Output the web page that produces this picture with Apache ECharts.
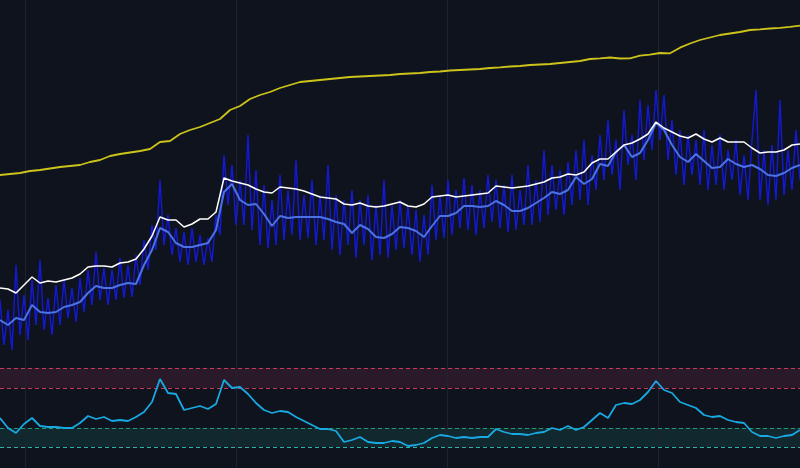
<!DOCTYPE html>
<html>
<head>
<meta charset="utf-8">
<script src="https://cdn.jsdelivr.net/npm/echarts@6/dist/echarts.min.js"></script>
<style>
html,body{margin:0;padding:0;background:#0f131d;}
#chart{width:800px;height:468px;}
</style>
</head>
<body>
<div id="chart"></div>
<script>
// time index steps
const stepNoisy = 2, stepSmooth = 4, stepYellow = 5;
const xMax = 400;
const gridTicks = [12.5, 118, 223.5, 329];

// long-term trend (yellow)
const trendLine = [185,186,187,189,190,191.5,193,194,195,198,
200,204,206,207.5,209,211,218,219,226,230,
233,237,241,250,254,261,265,268,272,275,
278,279,280,281,282,283,283.5,284,284.5,285,
286,286.5,287,288,288.5,289.5,290,290.5,291,292,
292.7,293.5,294,295,295.5,296,297,298,299,301,
301.7,302.5,301.5,301.7,304.3,305.3,307,306.7,312.3,316.5,
320,322.5,325,326.5,328,330,330.7,331.5,332.2,333.2,334.3];

// upper band (white)
const upperLine = [72,71,67,75,83,77,79,78,80,82,
86,93,94,94,93,97,98,101,111,124,
143,140,140,133,136,141,141,148,182,179,
177,175,171,168,167,173,172,171,169,166,
163,162,161,156,155,157,154,153,154,156,
158,154,153,156,163,164,165,163,164,165,
166,167,174,173,172,173,174,176,178,182,
183,186,185,188,197,201,201,208,215,217,
221,226,238,232,228,224,222,226,221,218,
222,218,218,218,212,207,208,208,210,215,216];

// moving average (light blue)
const avgLine = [40,35,42,40,55,48,47,48,53,55,
58,67,74,72,72,75,77,76,95,110,
132,128,117,113,113,115,117,130,168,176,
160,155,156,146,134,144,142,143,143,143,
143,141,138,136,127,135,131,123,122,126,
133,132,129,123,134,144,144,147,154,154,
153,154,159,155,149,149,152,157,162,168,
166,170,183,176,181,196,194,208,215,203,
207,220,237,230,215,203,198,206,199,192,
193,201,196,193,195,191,185,184,187,192,195];

// raw series (dark blue)
const rawLine = [60,15,50,10,95,25,65,20,80,35,
100,30,62,25,75,35,80,42,72,38,
82,48,90,55,108,60,92,55,90,60,
102,62,95,63,105,75,120,90,135,110,
180,115,145,105,132,98,128,95,132,98,
125,95,122,98,145,125,205,155,195,135,
180,135,225,130,190,115,175,112,160,115,
185,120,170,125,200,120,165,122,180,115,
165,120,195,110,165,105,160,115,170,102,
160,115,165,100,155,105,180,102,155,110,
160,112,155,105,150,98,145,105,175,120,
165,122,180,125,170,132,182,130,175,125,
170,132,185,138,180,132,175,128,185,130,
170,135,195,135,180,138,210,145,195,150,
190,145,198,155,210,160,220,155,205,170,
225,180,240,185,220,170,250,195,225,180,
260,200,255,210,270,220,265,200,240,185,
230,175,225,185,220,175,230,170,215,175,
225,170,210,180,220,165,205,160,220,270,
160,210,155,215,160,260,165,210,170,230,180];

// oscillator (cyan)
const oscLine = [50,40,35,44,50,42,41,41,40,40,
45,52,49,51,47,48,47,51,56,66,
89,75,74,58,60,62,59,64,88,80,
81,74,65,58,55,57,56,51,47,43,
39,39,37,26,28,31,26,25,25,27,
26,22,23,25,30,33,32,30,31,30,
31,31,39,36,34,34,33,35,36,40,
38,42,38,41,48,55,50,63,65,64,
68,76,87,78,75,66,63,60,53,51,
52,48,46,45,36,32,32,30,32,33,38];

const oscUpperBand = [80, 100];
const oscLowerBand = [21, 40];

const toPairs = (arr, step) => arr.map((v, i) => [i * step, v]);

const vLines = gridTicks.map(t => ({ xAxis: t }));
const vLineStyle = { color: '#1d2330', width: 1, type: 'solid' };

const chart = echarts.init(document.getElementById('chart'), null, { renderer: 'canvas' });
chart.setOption({
  backgroundColor: '#0f131d',
  animation: false,
  grid: [
    { left: 0, right: 0, top: 0, height: 360 },
    { left: 0, right: 0, top: 360, height: 108 }
  ],
  xAxis: [
    { type: 'value', gridIndex: 0, min: 0, max: xMax, show: false },
    { type: 'value', gridIndex: 1, min: 0, max: xMax, show: false }
  ],
  yAxis: [
    { type: 'value', gridIndex: 0, min: 0, max: 360, show: false },
    { type: 'value', gridIndex: 1, min: 0, max: 108, show: false }
  ],
  series: [
    {
      name: 'trend', type: 'line', xAxisIndex: 0, yAxisIndex: 0,
      data: toPairs(trendLine, stepYellow), showSymbol: false, symbol: 'none',
      lineStyle: { color: '#cdc41b', width: 1.8 }, z: 3,
      markLine: { silent: true, symbol: 'none', label: { show: false },
        lineStyle: vLineStyle, data: vLines, z: 1 }
    },
    {
      name: 'raw', type: 'line', xAxisIndex: 0, yAxisIndex: 0,
      data: toPairs(rawLine, stepNoisy), showSymbol: false, symbol: 'none',
      lineStyle: { color: '#1419d8', width: 1.4 }, z: 2
    },
    {
      name: 'avg', type: 'line', xAxisIndex: 0, yAxisIndex: 0,
      data: toPairs(avgLine, stepSmooth), showSymbol: false, symbol: 'none',
      lineStyle: { color: '#4a72e6', width: 2 }, z: 4
    },
    {
      name: 'upper', type: 'line', xAxisIndex: 0, yAxisIndex: 0,
      data: toPairs(upperLine, stepSmooth), showSymbol: false, symbol: 'none',
      lineStyle: { color: '#ffffff', width: 1.5 }, z: 5
    },
    {
      name: 'osc', type: 'line', xAxisIndex: 1, yAxisIndex: 1,
      data: toPairs(oscLine, stepSmooth), showSymbol: false, symbol: 'none',
      lineStyle: { color: '#19a9e2', width: 1.8 }, z: 5,
      markArea: { silent: true, data: [
        [{ yAxis: oscUpperBand[0], itemStyle: { color: '#2a1928' } }, { yAxis: oscUpperBand[1] }],
        [{ yAxis: oscLowerBand[0], itemStyle: { color: '#11282e' } }, { yAxis: oscLowerBand[1] }]
      ] },
      markLine: { silent: true, symbol: 'none', label: { show: false },
        data: vLines.map(d => Object.assign({ lineStyle: vLineStyle }, d)).concat([
          { yAxis: oscUpperBand[1], lineStyle: { color: '#c43a5a', width: 1, type: [4, 3] } },
          { yAxis: oscUpperBand[0], lineStyle: { color: '#c43a5a', width: 1, type: [4, 3] } },
          { yAxis: oscLowerBand[1], lineStyle: { color: '#1c9f79', width: 1, type: [4, 3] } },
          { yAxis: oscLowerBand[0], lineStyle: { color: '#29b6a6', width: 1, type: [4, 3] } }
        ]) }
    }
  ]
});
</script>
</body>
</html>
